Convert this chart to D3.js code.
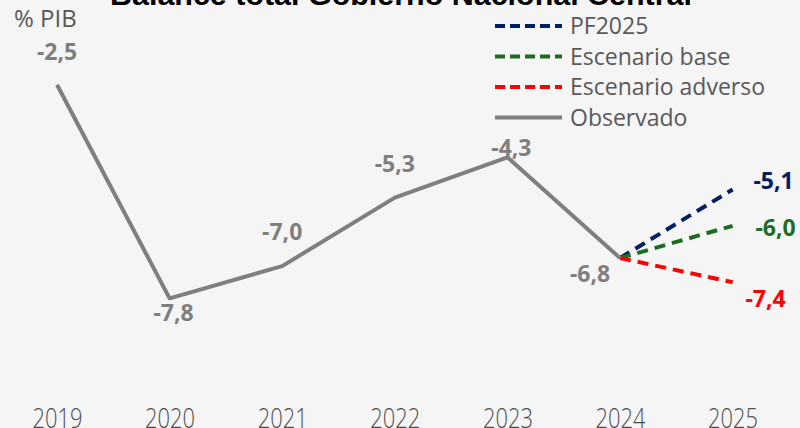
<!DOCTYPE html>
<html>
<head>
<meta charset="utf-8">
<script src="https://cdn.jsdelivr.net/npm/d3@7"></script>
<style>
	body { margin: 0; background: #f5f5f5; }
	svg { display: block; }
	.axis text { font-family: "Open Sans", sans-serif; font-weight: 300; font-size: 27px; fill: #4d4d4d; }
	.lbl { font-family: "Noto Sans", "Open Sans", sans-serif; font-weight: 700; font-size: 23px; }
	.legend text { font-family: "Open Sans", sans-serif; font-size: 23px; fill: #595959; }
</style>
</head>
<body>
<svg id="graph"></svg>
<script>
var years     = [ "2019", "2020", "2021", "2022", "2023", "2024", "2025" ];
var observado = [ -2.5, -7.8, -7.0, -5.3, -4.3, -6.8, null ];
var pf2025    = [ null, null, null, null, null, -6.8, -5.1 ];
var base      = [ null, null, null, null, null, -6.8, -6.0 ];
var adverso   = [ null, null, null, null, null, -6.8, -7.4 ];

var series_names = [ "PF2025", "Escenario base", "Escenario adverso", "Observado" ];
var series_vals  = [ pf2025, base, adverso, observado ];
var colors       = [ "#002060", "#1e6b24", "#ff0000", "#7f7f7f" ];

var width = 800, height = 428;

var svg = d3.select( "#graph" )
	.attr( "width" , width )
	.attr( "height", height );

svg.append( "rect" )
	.attr( "width", width ).attr( "height", height )
	.attr( "fill", "#f5f5f5" );

var x = d3.scalePoint().domain( years ).range([ 57, 732.6 ]);
var y = d3.scaleLinear().domain([ -10, 0 ]).range([ 387, -16 ]);

// Title (cropped at the top in the original)
svg.append( "text" )
	.attr( "x", 401 ).attr( "y", 5 )
	.attr( "text-anchor", "middle" )
	.attr( "textLength", 582 )
	.attr( "lengthAdjust", "spacingAndGlyphs" )
	.style( "font-family", "'Liberation Sans', Arial, sans-serif" )
	.style( "font-weight", "bold" )
	.style( "font-size", "29px" )
	.style( "fill", "#000" )
	.text( "Balance total Gobierno Nacional Central" );

// Unit label
svg.append( "text" )
	.attr( "x", 14 ).attr( "y", 27 )
	.style( "font-family", "'Open Sans', sans-serif" )
	.style( "font-size", "24px" )
	.style( "fill", "#595959" )
	.text( "% PIB" );

// X axis
var x_axis = d3.axisBottom( x ).tickSize( 0 );
var gx = svg.append( "g" )
	.attr( "class", "axis" )
	.attr( "transform", "translate(0,428)" )
	.call( x_axis );
gx.select( ".domain" ).remove();
gx.selectAll( "text" )
	.attr( "y", 0 ).attr( "dy", 0 )
	.attr( "textLength", 50 )
	.attr( "lengthAdjust", "spacingAndGlyphs" );

// Lines
var line = d3.line()
	.defined(function(d){ return d.v !== null; })
	.x(function(d){ return x( d.year ); })
	.y(function(d){ return y( d.v ); });

series_vals.forEach(function(vals, k){
	var pts = years.map(function(yr, i){ return { year: yr, v: vals[i] }; });
	var p = svg.append( "path" )
		.attr( "d", line( pts ) )
		.attr( "fill", "none" )
		.attr( "stroke", colors[k] )
		.attr( "stroke-width", 4 )
		.attr( "stroke-linejoin", "round" );
	if( k < 3 ) p.attr( "stroke-dasharray", "11,7" );
});

// Data labels
var fmt = function(v){ return d3.format( ".1f" )( v ).replace( ".", "," ).replace( "−", "-" ); };
var obs_off = [ [0, -25], [4, 23], [0, -26], [0, -26], [4, -1], [-30, 24] ];
observado.forEach(function(v, i){
	if( v === null ) return;
	svg.append( "text" )
		.attr( "class", "lbl" )
		.attr( "x", x( years[i] ) + obs_off[i][0] )
		.attr( "y", y( v ) + obs_off[i][1] )
		.attr( "text-anchor", "middle" )
		.style( "fill", "#7f7f7f" )
		.text( fmt( v ) );
});

var end_off = [ [41, -1], [43, 10], [33, 25] ];
[ pf2025, base, adverso ].forEach(function(vals, k){
	var v = vals[ vals.length - 1 ];
	svg.append( "text" )
		.attr( "class", "lbl" )
		.attr( "x", x( years[ years.length - 1 ] ) + end_off[k][0] )
		.attr( "y", y( v ) + end_off[k][1] )
		.attr( "text-anchor", "middle" )
		.style( "fill", colors[k] )
		.text( fmt( v ) );
});

// Legend
var legend = svg.append( "g" ).attr( "class", "legend" );
series_names.forEach(function(name, k){
	var ly = 26 + k * 30.5;
	var l = legend.append( "line" )
		.attr( "x1", 495 ).attr( "x2", 562 )
		.attr( "y1", ly ).attr( "y2", ly )
		.attr( "stroke", colors[k] )
		.attr( "stroke-width", 4 );
	if( k < 3 ) l.attr( "stroke-dasharray", "10,5" );
	legend.append( "text" )
		.attr( "x", 570 ).attr( "y", ly + 8 )
		.text( name );
});
</script>
</body>
</html>
